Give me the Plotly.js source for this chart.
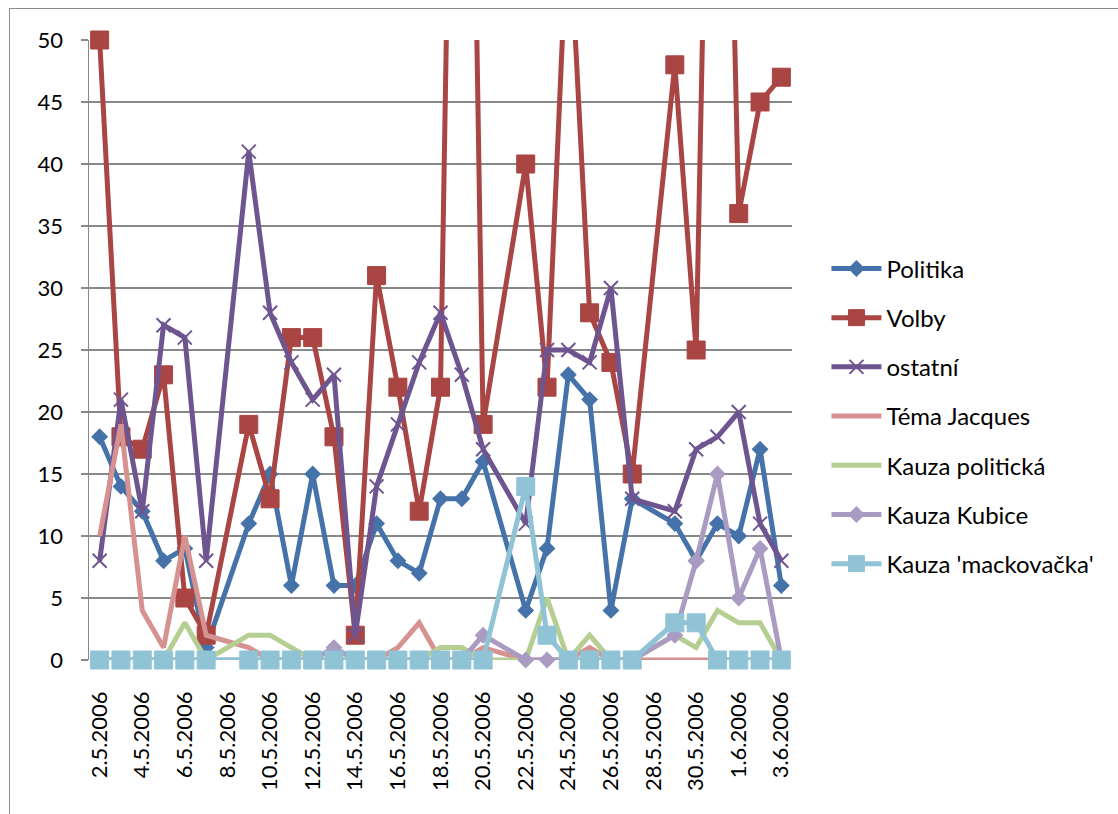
<!DOCTYPE html>
<html>
<head>
<meta charset="utf-8">
<script src="https://cdn.plot.ly/plotly-3.0.1.min.js"></script>
<style>
  html, body { margin: 0; padding: 0; background: #fff; }
  #wrap { position: relative; width: 1118px; height: 814px; overflow: hidden; }
  #chart { position: absolute; left: 0; top: 0; width: 1118px; height: 814px; }
  #frame { position: absolute; left: 9px; top: 8px; width: 1200px; height: 900px;
           border-left: 1px solid #8c8c8c; border-top: 1px solid #8c8c8c;
           pointer-events: none; }
</style>
</head>
<body>
<div id="wrap"><div id="chart"></div><div id="frame"></div></div>
<script>
// Categories (days)
const dates = ['2.5.2006','3.5.2006','4.5.2006','5.5.2006','6.5.2006','7.5.2006','8.5.2006','9.5.2006',
  '10.5.2006','11.5.2006','12.5.2006','13.5.2006','14.5.2006','15.5.2006','16.5.2006','17.5.2006',
  '18.5.2006','19.5.2006','20.5.2006','21.5.2006','22.5.2006','23.5.2006','24.5.2006','25.5.2006',
  '26.5.2006','27.5.2006','28.5.2006','29.5.2006','30.5.2006','31.5.2006','1.6.2006','2.6.2006','3.6.2006'];
// Tick labels shown on the x axis
const tickLabels = ['2.5.2006','4.5.2006','6.5.2006','8.5.2006','10.5.2006','12.5.2006','14.5.2006',
  '16.5.2006','18.5.2006','20.5.2006','22.5.2006','24.5.2006','26.5.2006','28.5.2006','30.5.2006',
  '1.6.2006','3.6.2006'];

// Series values (null = no data for that day)
const politika   = [18,14,12,8,9,1,null,11,15,6,15,6,6,11,8,7,13,13,16,null,4,9,23,21,4,13,null,11,8,11,10,17,6];
const volby      = [50,18,17,23,5,2,null,19,13,26,26,18,2,31,22,12,22,125,19,null,40,22,61,28,24,15,null,48,25,110,36,45,47];
const ostatni    = [8,21,12,27,26,8,null,41,28,24,21,23,2,14,19,24,28,23,17,null,11,25,25,24,30,13,null,12,17,18,20,11,8];
const temaJacques= [10,19,4,1,10,2,null,1,0,0,0,0,0,0,1,3,0,0,1,null,0,0,0,1,0,0,null,0,0,0,0,0,0];
const kauzaPol   = [0,0,0,0,3,0,null,2,2,1,0,0,0,0,0,0,1,1,0,null,0,5,0,2,0,0,null,2,1,4,3,3,0];
const kauzaKubice= [0,0,0,0,0,0,null,0,0,0,0,1,0,0,0,0,0,0,2,null,0,0,0,0,0,0,null,2,8,15,5,9,0];
const kauzaMack  = [0,0,0,0,0,0,null,0,0,0,0,0,0,0,0,0,0,0,0,null,14,2,0,0,0,0,null,3,3,0,0,0,0];

const LW = 5;
function tr(name, y, color, mode, marker) {
  const t = {
    type: 'scatter', x: dates, y: y, name: name, legendgroup: name,
    mode: mode, connectgaps: true, cliponaxis: false,
    line: { color: color, width: LW }
  };
  if (marker) t.marker = marker;
  return t;
}

const data = [
  tr('Politika', politika, '#4573A9', 'lines+markers',
     { symbol: 'diamond', size: 13, color: '#4573A9', line: { width: 0 } }),
  tr('Volby', volby, '#A94542', 'lines+markers',
     { symbol: 'square', size: 18, color: '#A94542', line: { width: 1, color: '#A94542' } }),
  tr('ostatní', ostatni, '#6E5590', 'lines+markers',
     { symbol: 'x-thin', size: 14, color: '#6E5590', line: { width: 2, color: '#6E5590' } }),
  tr('Téma Jacques', temaJacques, '#D69290', 'lines'),
  tr('Kauza politická', kauzaPol, '#B7CE92', 'lines'),
  tr('Kauza Kubice', kauzaKubice, '#A99BC2', 'lines+markers',
     { symbol: 'diamond', size: 13, color: '#A99BC2', line: { width: 0 } }),
  tr("Kauza 'mackovačka'", kauzaMack, '#90C3D5', 'lines+markers',
     { symbol: 'square', size: 18, color: '#90C3D5', line: { width: 1, color: '#90C3D5' } })
];

const layout = {
  width: 1118, height: 814,
  margin: { l: 89, r: 326, t: 40, b: 154, pad: 0 },
  paper_bgcolor: '#ffffff', plot_bgcolor: '#ffffff',
  font: { family: 'Lato, "Open Sans", sans-serif', color: '#000', size: 22 },
  showlegend: true,
  legend: {
    x: 1.049, xanchor: 'left', y: 0.393, yanchor: 'middle',
    traceorder: 'grouped', tracegroupgap: 15, itemwidth: 50,
    font: { size: 24, color: '#000' }, bgcolor: 'rgba(0,0,0,0)'
  },
  xaxis: {
    type: 'category', range: [-0.5, 32.5], tickmode: 'array', tickvals: tickLabels, ticktext: tickLabels,
    tickangle: -90, ticks: '', showgrid: false, zeroline: false,
    showline: false, ticklabelstandoff: 26, tickfont: { size: 22 }
  },
  yaxis: {
    range: [0, 50], dtick: 5, tick0: 0, showgrid: true, gridcolor: '#888888', gridwidth: 1.5,
    zeroline: false, showline: true, linecolor: '#888888', linewidth: 1.5,
    ticks: 'outside', ticklen: 7, tickcolor: '#888888', tickwidth: 1.5,
    ticklabelstandoff: 13, tickfont: { size: 22 }
  }
};

Plotly.newPlot('chart', data, layout, { displayModeBar: false, staticPlot: true });
</script>
</body>
</html>
